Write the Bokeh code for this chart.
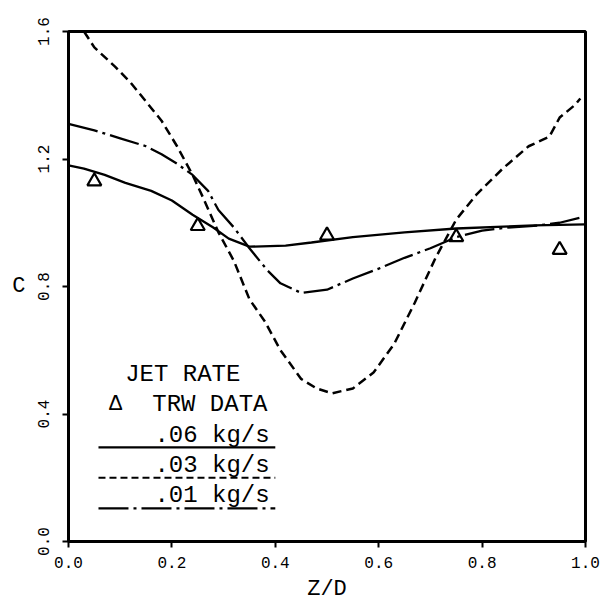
from bokeh.plotting import figure
from bokeh.models import Range1d, FixedTicker, NumeralTickFormatter
from bokeh.core.properties import value
from bokeh.embed import file_html
from bokeh.resources import INLINE

# --- data ---
trw_x = [0.05, 0.25, 0.50, 0.75, 0.95]
trw_c = [1.13, 0.99, 0.96, 0.955, 0.915]

r06_x = [0.0, 0.03, 0.07, 0.11, 0.16, 0.20, 0.24, 0.28, 0.31, 0.35, 0.42, 0.47, 0.55, 0.65, 0.75, 0.90, 1.0]
r06_c = [1.18, 1.17, 1.15, 1.125, 1.10, 1.07, 1.025, 0.985, 0.95, 0.925, 0.928, 0.938, 0.955, 0.97, 0.982, 0.992, 0.995]

r03_x = [0.03, 0.05, 0.09, 0.12, 0.15, 0.18, 0.21, 0.24, 0.26, 0.29, 0.32, 0.35, 0.38, 0.41, 0.45,
         0.48, 0.51, 0.55, 0.59, 0.63, 0.67, 0.71, 0.75, 0.79, 0.84, 0.89, 0.93, 0.95, 0.98, 0.99]
r03_c = [1.60, 1.55, 1.49, 1.44, 1.38, 1.32, 1.24, 1.15, 1.08, 0.97, 0.88, 0.76, 0.69, 0.60, 0.51,
         0.48, 0.465, 0.48, 0.53, 0.62, 0.75, 0.89, 1.01, 1.09, 1.17, 1.24, 1.27, 1.33, 1.37, 1.39]

r01_x = [0.0, 0.05, 0.10, 0.15, 0.18, 0.21, 0.24, 0.27, 0.29, 0.32, 0.35, 0.385, 0.41, 0.45, 0.50,
         0.55, 0.60, 0.65, 0.70, 0.75, 0.80, 0.85, 0.90, 0.95, 1.0]
r01_c = [1.31, 1.29, 1.265, 1.24, 1.215, 1.185, 1.15, 1.10, 1.04, 0.985, 0.92, 0.85, 0.81, 0.78, 0.79,
         0.825, 0.856, 0.89, 0.92, 0.955, 0.975, 0.985, 0.99, 1.0, 1.02]

x_ticks = [0.0, 0.2, 0.4, 0.6, 0.8, 1.0]
y_ticks = [0.0, 0.4, 0.8, 1.2, 1.6]

legend_title = "JET RATE"
legend_trw = "TRW DATA"
legend_labels = [".06 kg/s", ".03 kg/s", ".01 kg/s"]

FONT = "Liberation Mono"

p = figure(width=609, height=604, output_backend="svg", toolbar_location=None,
           x_range=Range1d(0, 1.0), y_range=Range1d(0, 1.6),
           min_border_left=68, min_border_right=24, min_border_top=31, min_border_bottom=63)
p.grid.visible = False
p.background_fill_color = "white"
p.border_fill_color = "white"
p.outline_line_color = "black"
p.outline_line_width = 3
p.outline_line_alpha = 1.0

for ax in (p.xaxis[0], p.yaxis[0]):
    ax.axis_line_width = 3
    ax.axis_line_color = "black"
    ax.major_tick_in = 0
    ax.major_tick_out = 6
    ax.major_tick_line_width = 2
    ax.minor_tick_line_color = None
    ax.major_label_text_font = FONT
    ax.major_label_text_font_size = "16px"
    ax.major_label_text_color = "black"
    ax.axis_label_text_font = FONT
    ax.axis_label_text_font_style = "normal"
    ax.axis_label_text_color = "black"
    ax.formatter = NumeralTickFormatter(format="0.0")

p.xaxis.ticker = FixedTicker(ticks=x_ticks)
p.yaxis.ticker = FixedTicker(ticks=y_ticks)
p.xaxis.major_label_standoff = 9
p.yaxis.major_label_standoff = 14
p.yaxis.major_label_orientation = "vertical"
p.xaxis.axis_label = "Z/D"
p.yaxis.axis_label = "C"
p.xaxis.axis_label_text_font_size = "22px"
p.yaxis.axis_label_text_font_size = "22px"
p.xaxis.axis_label_standoff = 6
p.yaxis.axis_label_standoff = 9
p.yaxis.axis_label_orientation = "horizontal"

# curves
p.line(r06_x, r06_c, line_color="black", line_width=2.3)
p.line(r03_x, r03_c, line_color="black", line_width=2.5, line_dash="9 5")
p.line(r01_x, r01_c, line_color="black", line_width=2.3, line_dash="30 5 3 5")
p.scatter(trw_x, trw_c, marker="triangle", size=14, fill_color=None,
          line_color="black", line_width=2.2)

# hand-lettered legend inside the plot
p.text(x=[0.221], y=[0.524], text=[legend_title], text_font=value(FONT), text_font_size="24px",
       text_align="center", text_baseline="middle", text_color="black")
p.text(x=[0.091], y=[0.43], text=["Δ"], text_font=value(FONT), text_font_size="22px",
       text_align="center", text_baseline="middle", text_color="black")
p.text(x=[0.162], y=[0.43], text=[legend_trw], text_font=value(FONT), text_font_size="24px",
       text_align="left", text_baseline="middle", text_color="black")
label_y = [0.333, 0.238, 0.144]
line_y = [0.295, 0.200, 0.104]
dashes = ["solid", "7 4", "30 5 3 5"]
for lab, ly, sy, d in zip(legend_labels, label_y, line_y, dashes):
    p.text(x=[0.389], y=[ly], text=[lab], text_font=value(FONT), text_font_size="24px",
           text_align="right", text_baseline="middle", text_color="black")
    p.line([0.058, 0.40], [sy, sy], line_color="black", line_width=2.2, line_dash=d)

open("out.html", "w").write(file_html(p, INLINE))
